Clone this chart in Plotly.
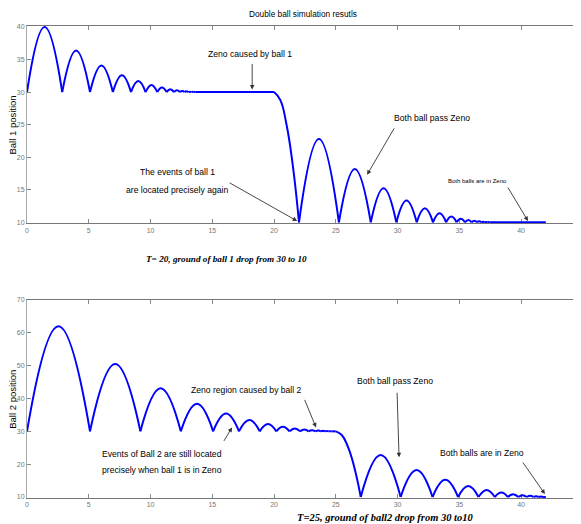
import plotly.graph_objects as go

# ---------------- data ----------------
# Ball 1, ground at 30 (t < 20): bounce contact times and apex heights
b1_contacts_a = [0.0, 2.85, 5.10, 6.95, 8.42, 9.60, 10.55, 11.30, 11.90, 12.38, 12.76, 13.07, 13.31, 13.51, 13.66]
b1_peaks_a = [40.0, 36.4, 34.1, 32.6, 31.7, 31.1, 30.7, 30.45, 30.28, 30.18, 30.12, 30.07, 30.05, 30.03]
b1_rest_a = [13.66, 20.0]          # resting on ground 30 (Zeno)
b1_fall_t = [20.0, 20.5, 21.0, 21.5, 22.02]
b1_fall_y = [30.0, 28.8, 25.1, 19.0, 10.0]
# Ball 1, ground at 10 (t > 20)
b1_contacts_b = [22.02, 25.25, 27.83, 29.90, 31.55, 32.87, 33.93, 34.78, 35.46, 36.00, 36.43, 36.78, 37.05, 37.27, 37.45]
b1_peaks_b = [22.8, 18.2, 15.25, 13.36, 12.15, 11.38, 10.88, 10.56, 10.36, 10.23, 10.15, 10.09, 10.06, 10.04]
b1_rest_b = [37.45, 42.0]

# Ball 2, ground at 30 (t < 25)
b2_contacts_a = [0.0, 5.10, 9.18, 12.45, 15.07, 17.16, 18.84, 20.18, 21.25, 22.11, 22.80, 23.35, 23.79, 24.14, 24.42, 24.64]
b2_peaks_a = [62.0, 50.5, 43.1, 38.4, 35.4, 33.45, 32.2, 31.4, 30.9, 30.58, 30.37, 30.24, 30.15, 30.1, 30.06]
b2_rest_a = [24.64, 25.0]
b2_fall_t = [25.0, 25.5, 26.0, 26.5, 27.02]
b2_fall_y = [30.0, 28.8, 25.1, 19.0, 10.0]
# Ball 2, ground at 10 (t > 25)
b2_contacts_b = [27.02, 30.25, 32.83, 34.90, 36.55, 37.87, 38.93, 39.78, 40.46, 41.00, 41.43, 41.78]
b2_peaks_b = [22.8, 18.2, 15.25, 13.36, 12.15, 11.38, 10.88, 10.56, 10.36, 10.23, 10.15]
b2_rest_b = [41.78, 42.0]

ground_hi = 30.0
ground_lo = 10.0

x_ticks = [0, 5, 10, 15, 20, 25, 30, 35, 40, 45]
y1_ticks = [10, 15, 20, 25, 30, 35, 40]
y2_ticks = [10, 20, 30, 40, 50, 60, 70]


def build(contacts_a, peaks_a, rest_a, fall_t, fall_y, contacts_b, peaks_b, rest_b):
    xs, ys = [], []
    for contacts, peaks, g in ((contacts_a, peaks_a, ground_hi), (contacts_b, peaks_b, ground_lo)):
        for i, p in enumerate(peaks):
            t0, t1 = contacts[i], contacts[i + 1]
            xs += [t0, (t0 + t1) / 2, t1, None]
            ys += [g, p, g, None]
        if g == ground_hi:
            xs += [rest_a[0], rest_a[1], None]
            ys += [g, g, None]
            xs += list(fall_t) + [None]
            ys += list(fall_y) + [None]
        else:
            xs += [rest_b[0], rest_b[1]]
            ys += [g, g]
    return xs, ys


x1, y1 = build(b1_contacts_a, b1_peaks_a, b1_rest_a, b1_fall_t, b1_fall_y, b1_contacts_b, b1_peaks_b, b1_rest_b)
x2, y2 = build(b2_contacts_a, b2_peaks_a, b2_rest_a, b2_fall_t, b2_fall_y, b2_contacts_b, b2_peaks_b, b2_rest_b)

BLUE = "#0000ff"
SANS = "Liberation Sans, Arial, sans-serif"
SERIF = "Liberation Serif, Times New Roman, serif"

fig = go.Figure()
fig.add_trace(go.Scatter(x=x1, y=y1, mode="lines", xaxis="x", yaxis="y",
                         line=dict(color=BLUE, width=2, shape="spline", smoothing=1.3, simplify=False),
                         connectgaps=False, showlegend=False, hoverinfo="skip"))
fig.add_trace(go.Scatter(x=x2, y=y2, mode="lines", xaxis="x2", yaxis="y2",
                         line=dict(color=BLUE, width=2, shape="spline", smoothing=1.3, simplify=False),
                         connectgaps=False, showlegend=False, hoverinfo="skip"))

tickfont = dict(family=SANS, size=7, color="#777")
xcommon = dict(range=[0, 44.85], tickvals=x_ticks, ticks="inside", ticklen=4, tickcolor="#888",
               showline=True, linecolor="#777", linewidth=1, mirror="ticks", showgrid=False,
               zeroline=False, tickfont=tickfont, layer="below traces")
ycommon = dict(ticks="inside", ticklen=4, tickcolor="#888", showline=True, linecolor="#aaa",
               linewidth=1, mirror="ticks", showgrid=False, zeroline=False, tickfont=tickfont,
               layer="below traces")

# the page body adds an 8px offset, so the figure is sized/margined to compensate
fig.update_layout(
    width=573, height=516,
    margin=dict(l=19, r=0, t=18, b=26, autoexpand=False),
    paper_bgcolor="white", plot_bgcolor="white",
    xaxis=dict(domain=[0, 1], anchor="y", **xcommon),
    yaxis=dict(domain=[0.582, 1.0], anchor="x", range=[9.85, 40.15], tickvals=y1_ticks, **ycommon),
    xaxis2=dict(domain=[0, 1], anchor="y2", **xcommon),
    yaxis2=dict(domain=[0.0, 0.4195], anchor="x2", range=[9.7, 70.0], tickvals=y2_ticks, **ycommon),
)

ann = []
FS = 8.6


def text(x, y, s, size=FS, xref="x", yref="y", family=SANS, **kw):
    ann.append(dict(x=x, y=y, xref=xref, yref=yref, text=s, showarrow=False,
                    xanchor="center", yanchor="middle",
                    font=dict(family=family, size=size, color="black"), **kw))


def arrow(x, y, ax, ay, xref="x", yref="y"):
    ann.append(dict(x=x, y=y, xref=xref, yref=yref, ax=ax, ay=ay, text="", showarrow=True,
                    arrowhead=2, arrowsize=1, arrowwidth=0.9, arrowcolor="#333"))


# title and axis titles
text(0.498, 1.025, "Double ball simulation resutls", size=8.3, xref="paper", yref="paper")
text(-0.0255, 0.791, "Ball 1 position", size=9.5, xref="paper", yref="paper", textangle=-90)
text(-0.0255, 0.21, "Ball 2 position", size=9.5, xref="paper", yref="paper", textangle=-90)

# top plot annotations
text(18.07, 35.9, "Zeno caused by ball 1")
arrow(18.23, 30.4, 0, -27)
text(12.16, 17.7, "The events of ball 1")
text(12.16, 15.0, "are located precisely again")
arrow(21.87, 10.2, -69, -39)
text(32.8, 26.0, "Both ball pass Zeno")
arrow(27.53, 17.3, 28, -48)
text(36.5, 16.4, "Both balls are in Zeno", size=6)
arrow(40.56, 10.2, -21, -35)
arrow(20.0, 7.0, 0, -14)
text(0.361, 0.506, "<b><i>T= 20, ground of ball 1 drop from 30 to 10</i></b>", size=9.2,
     xref="paper", yref="paper", family=SERIF)

# bottom plot annotations
text(17.8, 42.7, "Zeno region caused by ball 2", xref="x2", yref="y2")
arrow(23.4, 31.2, -12, -29, xref="x2", yref="y2")
text(10.95, 23.0, "Events of Ball 2 are still located", xref="x2", yref="y2")
text(10.95, 18.2, "precisely when ball 1 is in Zeno", xref="x2", yref="y2")
arrow(16.6, 31.2, -9, 15, xref="x2", yref="y2")
text(29.8, 45.2, "Both ball pass Zeno", xref="x2", yref="y2")
arrow(30.12, 22.1, -2, -66, xref="x2", yref="y2")
text(36.84, 23.3, "Both balls are in Zeno", xref="x2", yref="y2")
arrow(41.93, 10.9, -23, -33, xref="x2", yref="y2")
text(0.646, -0.042, "<b><i>T=25, ground of ball2 drop from 30 to10</i></b>", size=10.5,
     xref="paper", yref="paper", family=SERIF)

fig.update_layout(annotations=ann)
fig.write_html("out.html")
